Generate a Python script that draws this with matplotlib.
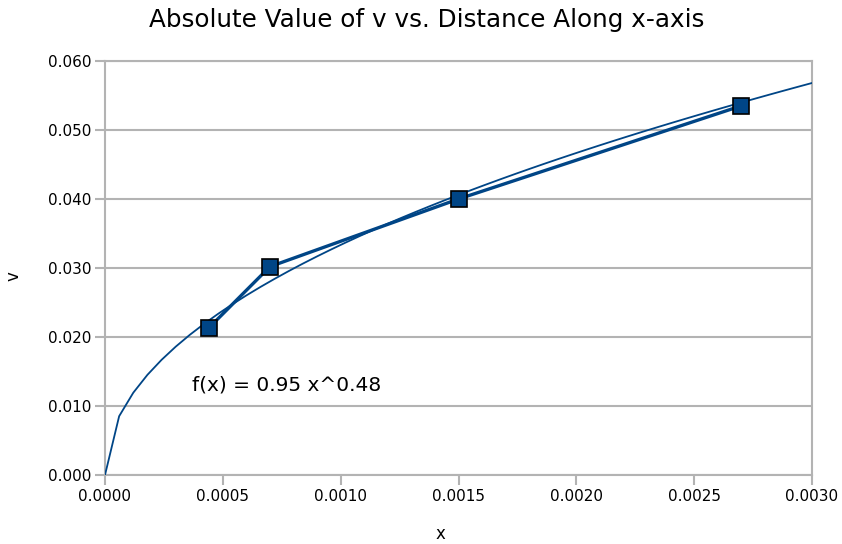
import matplotlib
matplotlib.use("Agg")
import matplotlib.pyplot as plt
import numpy as np

# measured positions and speeds
x_pts = [0.00044, 0.00070, 0.00150, 0.00270]
v_pts = [0.0213, 0.0302, 0.0400, 0.0535]

x_ticks = [0.0, 0.0005, 0.0010, 0.0015, 0.0020, 0.0025, 0.0030]
y_ticks = [0.0, 0.01, 0.02, 0.03, 0.04, 0.05, 0.06]

blue = "#004586"
gray = "#b3b3b3"

plt.rcParams["font.family"] = ["DejaVu Sans"]

# power trend line y = a*x^b fitted in log space
b, ln_a = np.polyfit(np.log(x_pts), np.log(v_pts), 1)
a = np.exp(ln_a)
xs = np.linspace(0, 0.003, 51)
ys = a * xs ** b

fig = plt.figure(figsize=(8.42, 5.44), dpi=100)
ax = fig.add_axes([0.1247, 0.1268, 0.8397, 0.7611])

ax.plot(xs, ys, color=blue, lw=1.3, zorder=3)
ax.plot(x_pts, v_pts, color=blue, lw=2.4, marker="s", markersize=11,
        markerfacecolor=blue, markeredgecolor="black", markeredgewidth=1.2,
        zorder=4)

ax.text(0.000369, 0.0131, "f(x) = %.2f x^%.2f" % (a, b), fontsize=14.5,
        va="center", ha="left")

ax.set_xlim(0, 0.003)
ax.set_ylim(0, 0.06)
ax.set_xticks(x_ticks)
ax.set_yticks(y_ticks)
ax.set_xticklabels(["%.4f" % t for t in x_ticks])
ax.set_yticklabels(["%.3f" % t for t in y_ticks])
ax.tick_params(axis="both", direction="out", length=7, width=1.5,
               color=gray, labelsize=11, pad=3)
ax.grid(axis="y", color=gray, lw=1.5)
ax.set_axisbelow(True)
for s in ax.spines.values():
    s.set_color(gray)
    s.set_linewidth(1.5)

ax.set_xlabel("x", fontsize=12, labelpad=15, x=0.475)
ax.set_ylabel("v", fontsize=12, labelpad=18, y=0.481)
fig.suptitle("Absolute Value of v vs. Distance Along x-axis", fontsize=17.7,
             x=0.507, y=0.985)

fig.savefig("out.png", dpi=100)
